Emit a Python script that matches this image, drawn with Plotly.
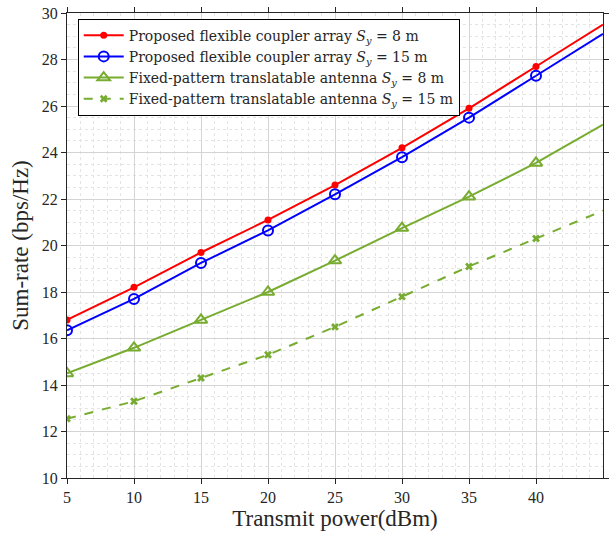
import plotly.graph_objects as go

power = [5, 10, 15, 20, 25, 30, 35, 40, 45]
flex_8 = [16.8, 18.2, 19.7, 21.1, 22.6, 24.2, 25.9, 27.7, 29.5]
flex_15 = [16.35, 17.7, 19.25, 20.65, 22.2, 23.8, 25.5, 27.3, 29.1]
fixed_8 = [14.5, 15.6, 16.8, 18.0, 19.35, 20.75, 22.1, 23.55, 25.2]
fixed_15 = [12.55, 13.3, 14.3, 15.3, 16.5, 17.8, 19.1, 20.3, 21.5]

names = [
    "Proposed flexible coupler array <i>S</i><sub><i>y</i></sub> = 8 m",
    "Proposed flexible coupler array <i>S</i><sub><i>y</i></sub> = 15 m",
    "Fixed-pattern translatable antenna <i>S</i><sub><i>y</i></sub> = 8 m",
    "Fixed-pattern translatable antenna <i>S</i><sub><i>y</i></sub> = 15 m",
]

GREEN = "#77AC30"
FONT = "Liberation Serif"
LEGEND_FONT = "DejaVu Serif"
styles = [
    dict(color="#FF0000", dash="solid", marker=dict(symbol="circle", size=7, color="#FF0000")),
    dict(color="#0000FF", dash="solid", marker=dict(symbol="circle-open", size=10, color="#0000FF", line=dict(width=2, color="#0000FF"))),
    dict(color=GREEN, dash="solid", marker=dict(symbol="triangle-up-open", size=11, color=GREEN, line=dict(width=2, color=GREEN))),
    dict(color=GREEN, dash="dash", marker=dict(symbol="x", size=7, color=GREEN, line=dict(width=0))),
]

fig = go.Figure()
for name, ys, st in zip(names, [flex_8, flex_15, fixed_8, fixed_15], styles):
    fig.add_trace(go.Scatter(
        x=power[:8], y=ys[:8], name=name, mode="lines+markers",
        line=dict(color=st["color"], width=2, dash=st["dash"]),
        marker=st["marker"],
    ))
    fig.add_trace(go.Scatter(
        x=power[7:], y=ys[7:], mode="lines", showlegend=False,
        line=dict(color=st["color"], width=2, dash=st["dash"]),
        hoverinfo="skip",
    ))

axis_common = dict(
    showline=True, linecolor="#262626", linewidth=1, mirror="ticks",
    ticks="outside", ticklen=5, tickcolor="#262626",
    showgrid=True, gridcolor="#d4d4d4", gridwidth=1,
    zeroline=False,
    tickfont=dict(family=FONT, size=16, color="#262626"),
)

fig.update_xaxes(
    range=[5, 45], tickvals=[5, 10, 15, 20, 25, 30, 35, 40],
    minor=dict(dtick=1, showgrid=True, gridcolor="#e4e4e4", griddash="dot", gridwidth=1, ticks=""),
    title=dict(text="Transmit power(dBm)", font=dict(family=FONT, size=23, color="#262626"), standoff=4),
    **axis_common,
)
fig.update_yaxes(
    range=[10, 30], dtick=2,
    minor=dict(dtick=0.5, showgrid=True, gridcolor="#e4e4e4", griddash="dot", gridwidth=1, ticks=""),
    title=dict(text="Sum-rate (bps/Hz)", font=dict(family=FONT, size=23, color="#262626"), standoff=6),
    **axis_common,
)

fig.update_layout(
    width=611, height=535,
    margin=dict(l=67, r=2, t=13, b=57),
    paper_bgcolor="white", plot_bgcolor="white",
    font=dict(family=FONT, color="#262626"),
    legend=dict(
        x=0.02, y=0.988, xanchor="left", yanchor="top",
        bgcolor="white", bordercolor="#000000", borderwidth=1,
        font=dict(family=LEGEND_FONT, size=14, color="#262626"),
        tracegroupgap=0, itemwidth=40,
    ),
    showlegend=True,
)

fig.write_html("out.html")
